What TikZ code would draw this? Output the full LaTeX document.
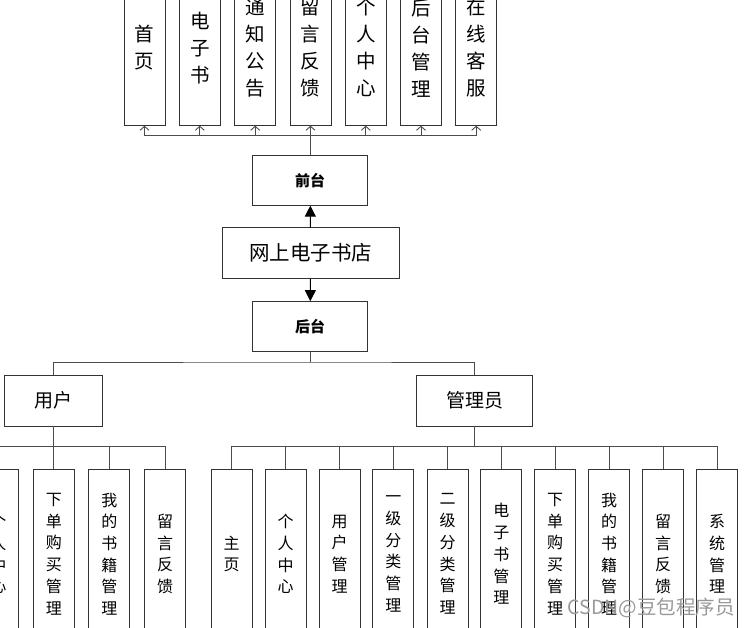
\documentclass[tikz,border=0pt]{standalone}
\usepackage{fontspec}
\newfontfamily\cjk{Noto Sans CJK SC}
\usetikzlibrary{arrows.meta}
\tikzset{
  tallbox/.style  = {draw=black!80, line width=0.9pt, fill=white, inner sep=0pt,
                     outer sep=0pt, minimum width=41pt, align=center},
  topitem/.style  = {tallbox, minimum height=155.7pt,
                     font=\cjk\fontsize{19.5}{27}\selectfont},
  subitem/.style  = {tallbox, minimum height=170pt,
                     font=\cjk\fontsize{16}{21.7}\selectfont},
  mainbox/.style  = {draw=black!80, line width=0.9pt, fill=white, inner sep=0pt,
                     outer sep=0pt, align=center},
  rolebox/.style  = {mainbox, minimum height=51pt,
                     font=\cjk\fontsize{19}{22}\selectfont},
  partbox/.style  = {mainbox, minimum width=115pt, minimum height=50.7pt,
                     font=\cjk\bfseries\fontsize{15}{18}\selectfont},
  link/.style     = {draw=black!70, line width=0.9pt},
  upline/.style   = {link, -{Straight Barb[length=4pt,width=9pt]}},
  bigarrow/.style = {draw=black, line width=1pt, -{Triangle[length=11pt,width=11pt]}}
}

\begin{document}
\begin{tikzpicture}[x=1pt, y=-1pt]
\useasboundingbox (0,0) rectangle (751,627);
\clip (0,0) rectangle (751,627);
% ---- Centre column ----
\node[rolebox, minimum width=177pt, font=\cjk\fontsize{20.5}{24}\selectfont]
  (shop) at (310.5,253.2) {网上电子书店};
\node[partbox] (qian) at (310.2,180.3) {前台};
\node[partbox] (hou)  at (310.2,326.5) {后台};
\draw[bigarrow] (shop) -- (qian);
\draw[bigarrow] (shop) -- (hou);

% ---- Front pages (top row) ----
\coordinate (busT) at (310.2,135.7);
\foreach \cx/\txt [count=\i] in {%
  144.5/{首\\页},
  199.8/{电\\子\\书},
  255.2/{通\\知\\公\\告},
  310.5/{留\\言\\反\\馈},
  365.8/{个\\人\\中\\心},
  421.0/{后\\台\\管\\理},
  476.2/{在\\线\\客\\服}} {
  \node[topitem] (t\i) at (\cx,47.85) {\txt};
  \draw[upline] (t\i.south |- busT) -- (t\i.south);
}
\draw[link] (t1.south |- busT) -- (t7.south |- busT);
\draw[link] (qian) -- (busT);

% ---- Roles ----
\node[rolebox, minimum width=97.6pt]  (user)  at (53.5,400.7) {用户};
\node[rolebox, minimum width=115.6pt] (admin) at (474.5,400.7) {管理员};
\coordinate (busB) at (310.2,362);
\draw[link] (hou) -- (busB);
\draw[link] (user.north) |- (busB) -| (admin.north);

% ---- User functions ----
\coordinate (busU) at (53.5,446);
\draw[link] (user) -- (busU);
\foreach \cx/\txt [count=\i] in {%
  -1.7/{个\\人\\中\\心},
  53.8/{下\\单\\购\\买\\管\\理},
  109.3/{我\\的\\书\\籍\\管\\理},
  165.0/{留\\言\\反\\馈}} {
  \node[subitem] (u\i) at (\cx,554) {\txt};
  \draw[link] (u\i.north) |- (busU);
}

% ---- Admin functions ----
\coordinate (busA) at (474.5,446);
\draw[link] (admin) -- (busA);
\foreach \cx/\txt [count=\i] in {%
  231.7/{主\\页},
  285.5/{个\\人\\中\\心},
  339.5/{用\\户\\管\\理},
  393.3/{一\\级\\分\\类\\管\\理},
  447.5/{二\\级\\分\\类\\管\\理},
  501.3/{电\\子\\书\\管\\理},
  555.0/{下\\单\\购\\买\\管\\理},
  609.0/{我\\的\\书\\籍\\管\\理},
  663.0/{留\\言\\反\\馈},
  717.0/{系\\统\\管\\理}} {
  \node[subitem] (a\i) at (\cx,554) {\txt};
  \draw[link] (a\i.north) |- (busA);
}

% watermark
\node[anchor=west, text=black!40, font=\cjk\fontsize{19.5}{19.5}\selectfont]
  (mark) at (564,608) {CSDN@豆包程序员};
\end{tikzpicture}
\end{document}
